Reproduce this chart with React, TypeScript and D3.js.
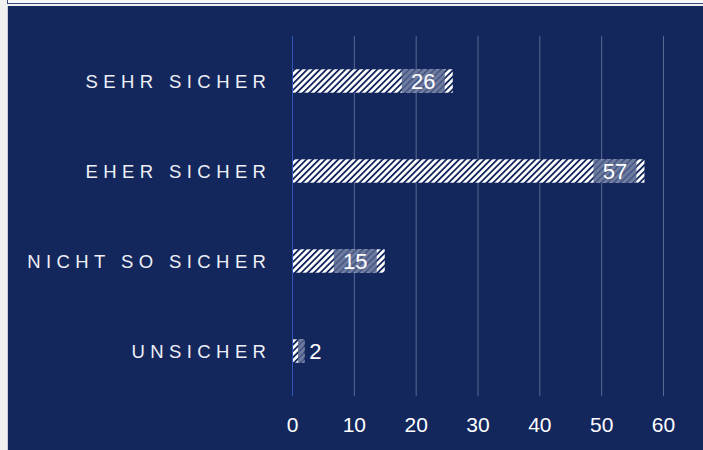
import { useRef, useEffect } from "react";
import { select, scaleLinear, scaleBand } from "d3";

const categories = ["SEHR SICHER", "EHER SICHER", "NICHT SO SICHER", "UNSICHER"];
const values = [26, 57, 15, 2];
const ticks = [0, 10, 20, 30, 40, 50, 60];

const W = 703;
const H = 450;
const NAVY = "#13275d";

export default function App() {
  const svgRef = useRef<SVGSVGElement>(null);

  useEffect(() => {
    const svg = select(svgRef.current);
    svg.selectAll("*").remove();

    const x = scaleLinear().domain([0, 60]).range([292, 663]);
    const y = scaleBand().domain(categories).range([36, 396]).paddingInner(0.74).paddingOuter(0.37);

    const defs = svg.append("defs");
    const pat = defs.append("pattern")
      .attr("id", "hatch")
      .attr("patternUnits", "userSpaceOnUse")
      .attr("width", 4.5)
      .attr("height", 4.5)
      .attr("patternTransform", "rotate(45)");
    pat.append("rect").attr("width", 4.5).attr("height", 4.5).attr("fill", "#ffffff");
    pat.append("rect").attr("x", 0).attr("width", 1.8).attr("height", 4.5).attr("fill", NAVY);

    // page background + top strip
    svg.append("rect").attr("width", W).attr("height", H).attr("fill", "#f0f0f0");
    svg.append("rect").attr("x", 7.5).attr("y", -10).attr("width", 700).attr("height", 13.5)
      .attr("fill", "#f7f7f7").attr("stroke", "#3b4a78");
    svg.append("rect").attr("x", 7).attr("y", 6).attr("width", W - 7).attr("height", H - 6).attr("fill", "#c8ccd8");
    svg.append("rect").attr("x", 8).attr("y", 6).attr("width", W - 8).attr("height", H - 6).attr("fill", NAVY);

    // grid
    svg.append("g").selectAll("line").data(ticks).join("line")
      .attr("x1", d => x(d) + 0.5).attr("x2", d => x(d) + 0.5)
      .attr("y1", 36).attr("y2", 396)
      .attr("stroke", d => (d === 0 ? "#2f55b8" : "#5b6a94"))
      .attr("stroke-width", 1);

    svg.append("g").selectAll("text").data(ticks).join("text")
      .attr("x", d => x(d) + 0.5).attr("y", 432)
      .attr("text-anchor", "middle")
      .attr("font-family", "Liberation Sans, Arial, sans-serif")
      .attr("font-size", 21)
      .attr("fill", "#ffffff")
      .text(d => d);

    // category labels
    const ls = 5.4;
    svg.append("g").selectAll("text").data(categories).join("text")
      .attr("x", 266 + ls).attr("y", c => (y(c) ?? 0) + y.bandwidth() / 2 + 7)
      .attr("text-anchor", "end")
      .attr("font-family", "Liberation Sans, Arial, sans-serif")
      .attr("font-size", 18.5)
      .attr("letter-spacing", ls)
      .attr("fill", "#eef0f6")
      .text(c => c);

    const bars = svg.append("g").selectAll("g").data(values).join("g");
    bars.append("rect")
      .attr("x", x(0) + 1)
      .attr("y", (_, i) => y(categories[i]) ?? 0)
      .attr("width", d => x(d) - x(0) - 1)
      .attr("height", y.bandwidth())
      .attr("fill", "url(#hatch)");

    bars.each(function (d, i) {
      const g = select(this);
      const end = x(d);
      const top = y(categories[i]) ?? 0;
      const h = y.bandwidth();
      const boxW = 43;
      const fits = end - x(0) > boxW + 10;
      const bx0 = fits ? end - 8 - boxW : x(0) + 6;
      const bx1 = fits ? end - 8 : end;
      g.append("rect")
        .attr("x", bx0).attr("y", top)
        .attr("width", bx1 - bx0).attr("height", h)
        .attr("fill", "#55648e").attr("opacity", 0.85);
      g.append("text")
        .attr("x", fits ? (bx0 + bx1) / 2 : end + 5)
        .attr("y", top + h / 2 + 8)
        .attr("text-anchor", fits ? "middle" : "start")
        .attr("font-family", "Liberation Sans, Arial, sans-serif")
        .attr("font-size", 22)
        .attr("fill", "#ffffff")
        .text(d);
    });
  }, []);

  return (
    <svg ref={svgRef} width={W} height={H}
      style={{ position: "fixed", left: 0, top: 0, display: "block" }} />
  );
}
